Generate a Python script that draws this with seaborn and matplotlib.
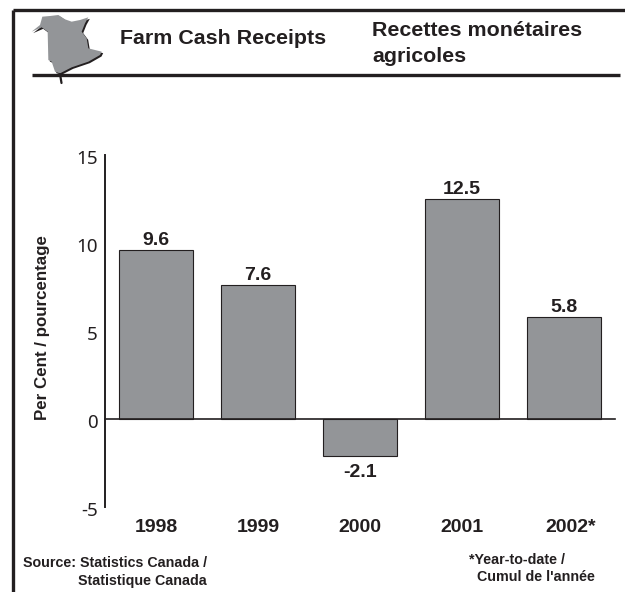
import matplotlib
matplotlib.use('Agg')
import matplotlib.pyplot as plt
import seaborn as sns
import pandas as pd
from matplotlib.lines import Line2D
from matplotlib.patches import Polygon
from matplotlib.transforms import ScaledTranslation

# values
years = ['1998', '1999', '2000', '2001', '2002*']
pct_change = [9.6, 7.6, -2.1, 12.5, 5.8]
y_ticks = [-5, 0, 5, 10, 15]
y_tick_labels = ['-5', '0', '5', '10', '15']

df = pd.DataFrame({'year': years, 'pct': pct_change})

W, H = 625, 592
BOLD = 'Liberation Sans'
INK = '#231f20'
GREY = '#939598'

sns.set_theme(style='white')
plt.rcParams['font.family'] = ['Noto Sans', 'DejaVu Sans']


def fx(x):
    return x / W


def fy(y):
    return 1 - y / H


fig = plt.figure(figsize=(W / 100, H / 100), dpi=100, facecolor='white')
ax = fig.add_axes([fx(105), fy(507), fx(510), fy(155) - fy(507)])

sns.barplot(data=df, x='year', y='pct', color=GREY, saturation=1, width=0.725,
            edgecolor=INK, linewidth=0.8, ax=ax)
ax.set_xlim(-0.5, 4.5)
ax.set_ylim(-5, 15)
ax.set_yticks(y_ticks)
ax.set_yticklabels(y_tick_labels)
ax.set_xlabel('')
ax.set_ylabel('Per Cent / pourcentage', fontfamily=BOLD, fontweight='bold',
              fontsize=12.15, color=INK, va='center')
ax.yaxis.set_label_coords((43 - 105) / 510, (507 - 328) / 352)
ax.tick_params(axis='y', length=0, pad=5, labelsize=13.5, labelcolor=INK)
ax.tick_params(axis='x', length=0, labelbottom=False)

# tick labels hang slightly below their nominal position in the original
nudge = ScaledTranslation(0, -2 / 100, fig.dpi_scale_trans)
for lab in ax.get_yticklabels():
    lab.set_transform(lab.get_transform() + nudge)

sns.despine(ax=ax, top=True, right=True)
ax.spines['left'].set_linewidth(1.4)
ax.spines['left'].set_color(INK)
ax.spines['bottom'].set_position(('data', 0))
ax.spines['bottom'].set_linewidth(1.2)
ax.spines['bottom'].set_color(INK)

# value labels, above positive bars and below the negative one
for i, v in enumerate(pct_change):
    ax.annotate(f'{v:.1f}', (i, v), xytext=(0, 0.7 if v >= 0 else -6),
                textcoords='offset points', ha='center',
                va='bottom' if v >= 0 else 'top', fontfamily=BOLD,
                fontweight='bold', fontsize=14, color=INK)

# year labels sit below the axes at the bottom of the plot
for i, y in enumerate(years):
    ax.annotate(y, (i, -5), xytext=(5 if y.endswith('*') else 0, -8.5),
                textcoords='offset points', ha='center', va='top',
                fontfamily=BOLD, fontweight='bold', fontsize=14, color=INK)

# frame and header rule
for xs, ys, lw in [([12.5, 12.5], [592, 9.5], 2.4),
                   ([12.5, 625], [9.5, 9.5], 2.4),
                   ([32, 620], [75, 75], 2.4)]:
    fig.add_artist(Line2D([fx(x) for x in xs], [fy(y) for y in ys], color=INK,
                          lw=lw, solid_capstyle='butt'))

outline = [(52, 20), (75, 18), (100, 15), (120, 28), (140, 35), (165, 30), (190, 22),
           (180, 40), (170, 65), (185, 85), (190, 115), (230, 125), (225, 135),
           (190, 155), (140, 172), (105, 190), (90, 185), (80, 155), (70, 150),
           (68, 65), (50, 52), (20, 65), (45, 45)]
outline = [(25 + x / 3, 10 + y / 3) for x, y in outline]
shadow = [(x + 1.5, y + 1.5) for x, y in outline]
for pts, colour in [(shadow, INK), (outline, GREY)]:
    fig.add_artist(Polygon([(fx(x), fy(y)) for x, y in pts], closed=True,
                           transform=fig.transFigure, facecolor=colour, edgecolor='none'))
fig.add_artist(Line2D([fx(60), fx(61.5)], [fy(74), fy(83)], color=INK, lw=1.6))

# header and footer text
header = [(120, 39, 'Farm Cash Receipts'),
          (372, 31, 'Recettes monétaires'),
          (372, 57, 'agricoles')]
for x, y, s in header:
    fig.text(fx(x), fy(y), s, fontfamily=BOLD, fontweight='bold', fontsize=15.4,
             color=INK, ha='left', va='center')

footer = [(23, 563, 'Source: Statistics Canada /'),
          (78, 581, 'Statistique Canada'),
          (469, 560, '*Year-to-date /'),
          (477, 577, "Cumul de l'année")]
for x, y, s in footer:
    fig.text(fx(x), fy(y), s, fontfamily=BOLD, fontweight='bold', fontsize=10.3,
             color=INK, ha='left', va='center')

fig.savefig('out.png', dpi=100)
